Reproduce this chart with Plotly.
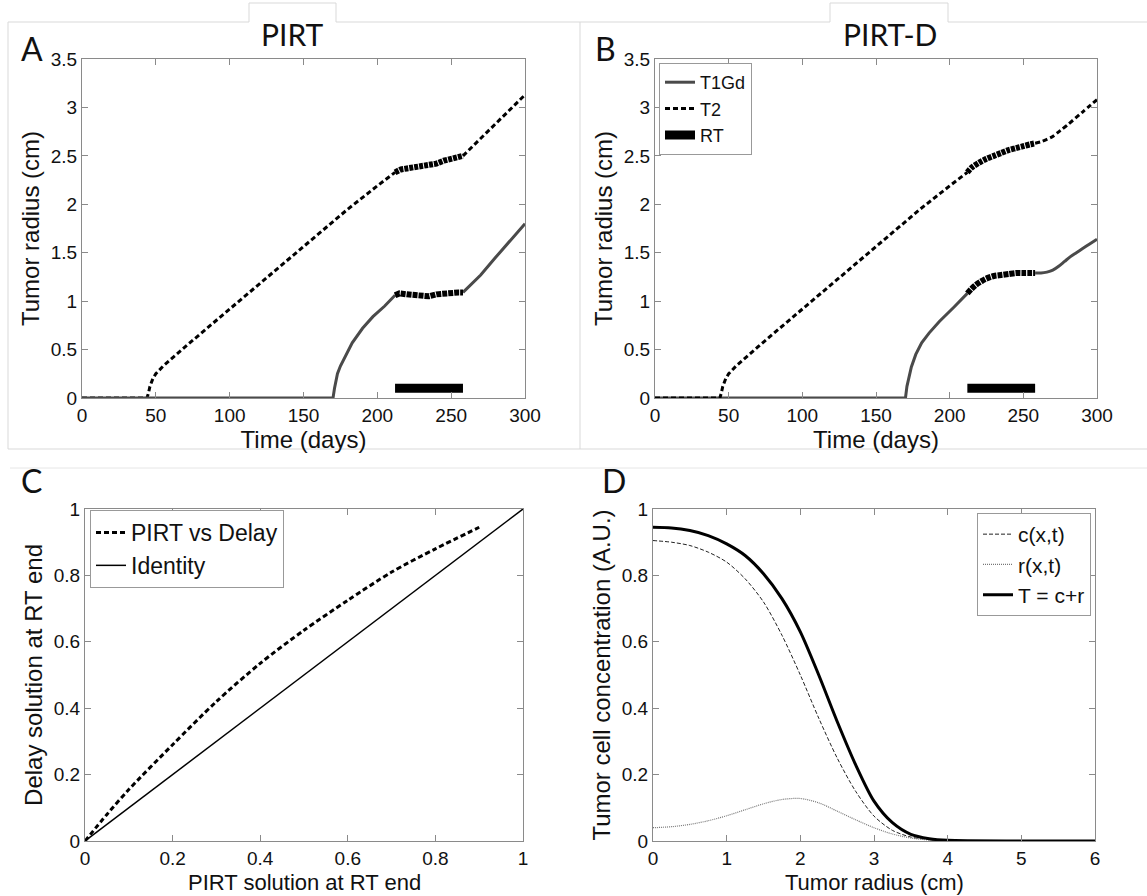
import plotly.graph_objects as go

W, H = 1147, 896

# ---------------- Data ----------------
# Panel A (PIRT)
a_t2_t = [0, 44, 45, 46, 48, 50, 55, 60, 70, 80, 100, 120, 140, 160, 180, 200, 212]
a_t2_r = [0, 0, 0.05, 0.12, 0.20, 0.25, 0.33, 0.40, 0.53, 0.66, 0.92, 1.18, 1.44, 1.70, 1.95, 2.19, 2.33]
a_t2_rt_t = [212, 216, 220, 225, 230, 235, 240, 245, 250, 255, 258]
a_t2_rt_r = [2.33, 2.36, 2.37, 2.38, 2.39, 2.40, 2.42, 2.45, 2.47, 2.49, 2.50]
a_t2_post_t = [258, 270, 280, 290, 300]
a_t2_post_r = [2.50, 2.68, 2.83, 2.98, 3.13]

a_t1_t = [0, 170, 171, 172, 173, 175, 178, 183, 190, 197, 205, 212]
a_t1_r = [0, 0, 0.10, 0.18, 0.25, 0.33, 0.42, 0.57, 0.72, 0.84, 0.95, 1.06]
a_t1_rt_t = [212, 215, 220, 225, 230, 235, 240, 245, 250, 255, 258]
a_t1_rt_r = [1.06, 1.08, 1.07, 1.06, 1.05, 1.05, 1.07, 1.08, 1.09, 1.09, 1.09]
a_t1_post_t = [258, 270, 280, 290, 300]
a_t1_post_r = [1.09, 1.27, 1.45, 1.62, 1.80]

# Panel B (PIRT-D)
b_t2_t = [0, 44, 45, 46, 48, 50, 55, 60, 70, 80, 100, 120, 140, 160, 180, 200, 212]
b_t2_r = [0, 0, 0.05, 0.12, 0.20, 0.25, 0.33, 0.40, 0.53, 0.66, 0.92, 1.18, 1.44, 1.70, 1.95, 2.19, 2.33]
b_t2_rt_t = [212, 215, 220, 225, 230, 235, 240, 245, 250, 255, 258]
b_t2_rt_r = [2.33, 2.38, 2.43, 2.47, 2.50, 2.53, 2.56, 2.58, 2.60, 2.62, 2.63]
b_t2_post_t = [258, 262, 266, 270, 275, 280, 290, 300]
b_t2_post_r = [2.63, 2.645, 2.67, 2.70, 2.76, 2.82, 2.95, 3.08]

b_t1_t = [0, 170, 171, 172, 174, 177, 181, 186, 193, 203, 212]
b_t1_r = [0, 0, 0.12, 0.20, 0.32, 0.45, 0.57, 0.67, 0.79, 0.94, 1.08]
b_t1_rt_t = [212, 215, 218, 222, 226, 230, 235, 240, 245, 250, 258]
b_t1_rt_r = [1.08, 1.13, 1.17, 1.21, 1.24, 1.26, 1.27, 1.28, 1.29, 1.29, 1.29]
b_t1_post_t = [258, 262, 266, 270, 274, 278, 282, 286, 290, 295, 300]
b_t1_post_r = [1.29, 1.29, 1.30, 1.32, 1.36, 1.41, 1.46, 1.50, 1.54, 1.59, 1.64]

rt_days = [212, 258]
rt_level = [0.1, 0.1]

# Panel C
c_pirt = [0, 0.05, 0.1, 0.2, 0.3, 0.4, 0.5, 0.6, 0.7, 0.8, 0.9]
c_delay = [0, 0.08, 0.155, 0.29, 0.42, 0.535, 0.635, 0.725, 0.81, 0.88, 0.945]
c_ident = [0, 1]

# Panel D
d_x = [0, 0.25, 0.5, 0.75, 1, 1.25, 1.5, 1.75, 2, 2.25, 2.5, 2.75, 3, 3.25, 3.5, 3.75, 4, 5, 6]
d_T = [0.945, 0.943, 0.935, 0.92, 0.895, 0.86, 0.805, 0.73, 0.63, 0.50, 0.36, 0.23, 0.12, 0.055, 0.02, 0.007, 0.002, 0, 0]
d_c = [0.905, 0.90, 0.89, 0.87, 0.84, 0.79, 0.72, 0.62, 0.50, 0.37, 0.25, 0.15, 0.075, 0.032, 0.012, 0.004, 0.001, 0, 0]
d_r = [0.04, 0.043, 0.05, 0.061, 0.076, 0.094, 0.112, 0.125, 0.128, 0.115, 0.09, 0.064, 0.04, 0.021, 0.009, 0.003, 0.001, 0, 0]

# ---------------- Helpers ----------------
def px(x):
    return x / W

def py(y):
    return 1 - y / H

GRAY_T1 = "#4a4a4a"
AXC = "#8a8a8a"
TICKF = dict(family="Liberation Sans, Arial, sans-serif", size=19, color="#111")
TITLEF = dict(family="Liberation Sans, Arial, sans-serif", size=24, color="#111")
T2DASH = "5px,3px"

fig = go.Figure()

def add(x, y, xa, ya, **kw):
    fig.add_trace(go.Scatter(x=x, y=y, xaxis=xa, yaxis=ya, mode="lines", hoverinfo="skip", **kw))

SPL = dict(shape="spline", smoothing=0.8)

# Panel A
add(a_t2_t, a_t2_r, "x", "y", line=dict(color="black", width=3, dash=T2DASH), showlegend=False)
add(a_t2_post_t, a_t2_post_r, "x", "y", line=dict(color="black", width=3, dash=T2DASH), showlegend=False)
add(a_t2_rt_t, a_t2_rt_r, "x", "y", line=dict(color="black", width=6, dash="4px,1px"), showlegend=False)
add(a_t1_t, a_t1_r, "x", "y", line=dict(color=GRAY_T1, width=3), showlegend=False)
add(a_t1_post_t, a_t1_post_r, "x", "y", line=dict(color=GRAY_T1, width=3), showlegend=False)
add(a_t1_rt_t, a_t1_rt_r, "x", "y", line=dict(color="black", width=6, dash="5px,1px"), showlegend=False)
add(rt_days, rt_level, "x", "y", line=dict(color="black", width=9), showlegend=False)

# Panel B
add(b_t1_t, b_t1_r, "x2", "y2", line=dict(color=GRAY_T1, width=3), name="T1Gd", legend="legend")
add(b_t2_t, b_t2_r, "x2", "y2", line=dict(color="black", width=3, dash=T2DASH), name="T2", legend="legend")
add(rt_days, rt_level, "x2", "y2", line=dict(color="black", width=9), name="RT", legend="legend")
add(b_t1_post_t, b_t1_post_r, "x2", "y2", line=dict(color=GRAY_T1, width=3, **SPL), showlegend=False)
add(b_t1_rt_t, b_t1_rt_r, "x2", "y2", line=dict(color="black", width=6, dash="5px,1px", **SPL), showlegend=False)
add(b_t2_post_t, b_t2_post_r, "x2", "y2", line=dict(color="black", width=3, dash=T2DASH, **SPL), showlegend=False)
add(b_t2_rt_t, b_t2_rt_r, "x2", "y2", line=dict(color="black", width=6, dash="4px,1px", **SPL), showlegend=False)

# Panel C
add(c_pirt, c_delay, "x3", "y3", line=dict(color="black", width=3, dash=T2DASH, **SPL), name="PIRT vs Delay", legend="legend2")
add(c_ident, c_ident, "x3", "y3", line=dict(color="black", width=1.5), name="Identity", legend="legend2")

# Panel D
add(d_x, d_c, "x4", "y4", line=dict(color="#222", width=1, dash="4px,2px", **SPL), name="c(x,t)", legend="legend3")
add(d_x, d_r, "x4", "y4", line=dict(color="#777", width=1.2, dash="1px,1px", **SPL), name="r(x,t)", legend="legend3")
add(d_x, d_T, "x4", "y4", line=dict(color="black", width=3, **SPL), name="T = c+r", legend="legend3")

def axis(domain, rng, dtick, title, anchor, standoff=4):
    return dict(domain=domain, range=rng, dtick=dtick, tick0=0, anchor=anchor,
                showline=True, linecolor=AXC, linewidth=1, mirror="ticks",
                ticks="inside", ticklen=6, tickcolor=AXC, showgrid=False, zeroline=False,
                tickfont=TICKF, title=dict(text=title, font=TITLEF, standoff=standoff),
                automargin=False, fixedrange=True)

xA = [px(82), px(525)]
xB = [px(655), px(1097)]
xC = [px(85), px(523)]
xD = [px(653), px(1095)]
yTop = [py(398), py(59)]
yBot = [py(841), py(509)]

legbase = dict(bgcolor="white", bordercolor="#999", borderwidth=1, xanchor="left", yanchor="top",
               tracegroupgap=0, itemwidth=30)

fig.update_layout(
    width=W, height=H, margin=dict(l=0, r=0, t=0, b=0),
    paper_bgcolor="white", plot_bgcolor="white",
    xaxis=axis(xA, [0, 300], 50, "Time (days)", "y"),
    yaxis=axis(yTop, [0, 3.5], 0.5, "Tumor radius (cm)", "x"),
    xaxis2=axis(xB, [0, 300], 50, "Time (days)", "y2"),
    yaxis2=axis(yTop, [0, 3.5], 0.5, "Tumor radius (cm)", "x2"),
    xaxis3=axis(xC, [0, 1], 0.2, "", "y3"),
    yaxis3=axis(yBot, [0, 1], 0.2, "Delay solution at RT end", "x3"),
    xaxis4=axis(xD, [0, 6], 1, "", "y4"),
    yaxis4=axis(yBot, [0, 1], 0.2, "Tumor cell concentration (A.U.)", "x4"),
    legend=dict(legbase, x=px(659), y=py(63), font=dict(family="Liberation Sans, Arial", size=18, color="#111")),
    legend2=dict(legbase, x=px(90), y=py(510), font=dict(family="Liberation Sans, Arial", size=23, color="#111")),
    legend3=dict(legbase, x=px(1091), xanchor="right", y=py(513), font=dict(family="Liberation Sans, Arial", size=21, color="#111")),
)

# bottom-row x-axis titles (placed to sit just under the tick labels)
BOTF = dict(family="Liberation Sans, Arial, sans-serif", size=22, color="#111")
for txt, xc in [("PIRT solution at RT end", (85 + 523) / 2), ("Tumor radius (cm)", (653 + 1095) / 2)]:
    fig.add_annotation(text=txt, x=px(xc), y=0, xref="paper", yref="paper", xanchor="center",
                       yanchor="bottom", showarrow=False, font=BOTF, borderpad=0)

# frame decorations (panel boxes with title tabs)
FR = "#d9d9d9"
top_path = (f"M {px(8)},{py(449)} L {px(8)},{py(22)} L {px(249)},{py(22)} L {px(249)},{py(3)} "
            f"L {px(336)},{py(3)} L {px(336)},{py(22)} L {px(830)},{py(22)} L {px(830)},{py(3)} "
            f"L {px(948)},{py(3)} L {px(948)},{py(22)} L {px(1147)},{py(22)}")
fig.add_shape(type="path", path=top_path, xref="paper", yref="paper", line=dict(color=FR, width=1), layer="below")
fig.add_shape(type="line", x0=px(580), x1=px(580), y0=py(22), y1=py(449), xref="paper", yref="paper",
              line=dict(color=FR, width=1), layer="below")
fig.add_shape(type="line", x0=px(8), x1=px(1147), y0=py(449), y1=py(449), xref="paper", yref="paper",
              line=dict(color=FR, width=1), layer="below")
fig.add_shape(type="line", x0=px(10), x1=px(1147), y0=py(468), y1=py(468), xref="paper", yref="paper",
              line=dict(color="#e6e6e6", width=1), layer="below")

LBLF = dict(family="Lato, Open Sans, sans-serif", size=32, color="#111")
TTLF = dict(family="Lato, Open Sans, sans-serif", size=30, color="#111")
for txt, x, y in [("A", 19, 48), ("B", 593, 48), ("C", 19, 481), ("D", 600, 481)]:
    fig.add_annotation(text=txt, x=px(x), y=py(y), xref="paper", yref="paper", xanchor="left",
                       yanchor="middle", showarrow=False, font=LBLF)
for txt, x in [("PIRT", 292), ("PIRT-D", 890)]:
    fig.add_annotation(text=txt, x=px(x), y=py(34), xref="paper", yref="paper", xanchor="center",
                       yanchor="middle", showarrow=False, font=TTLF)

fig.write_html("out.html")
